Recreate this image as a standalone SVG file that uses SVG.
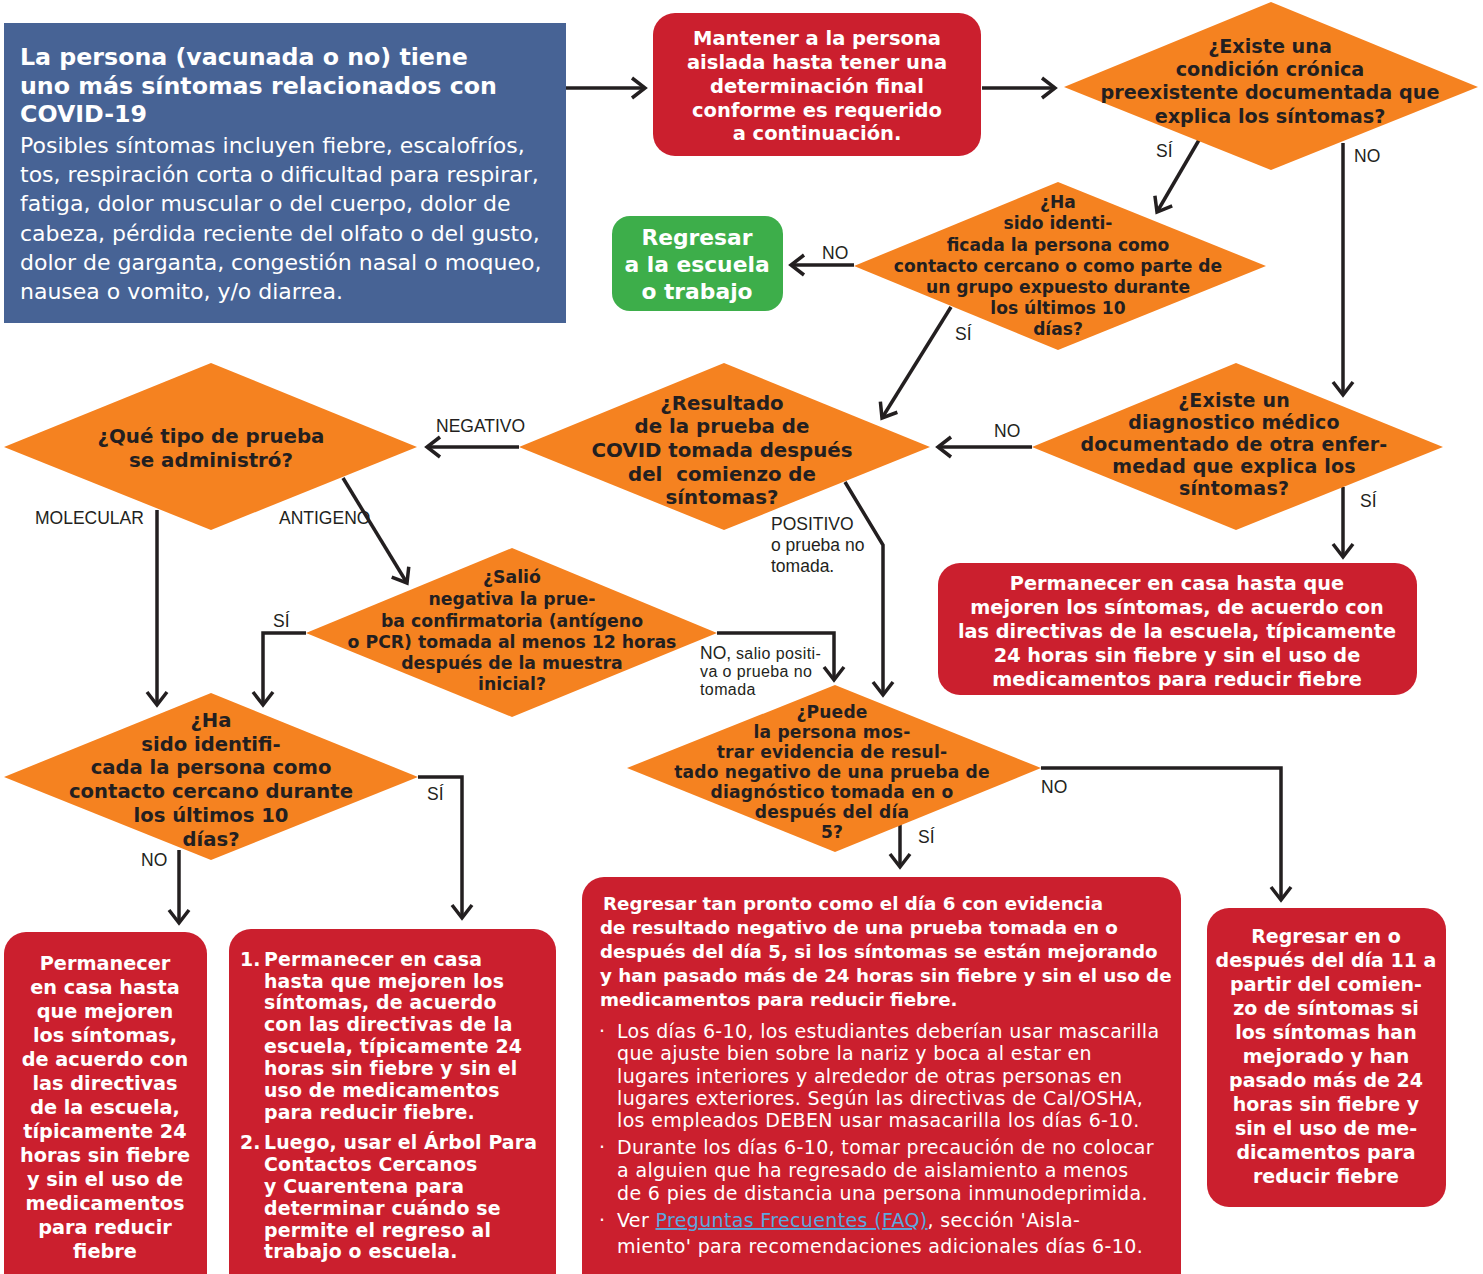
<svg xmlns="http://www.w3.org/2000/svg" width="1483" height="1274" viewBox="0 0 1483 1274">
<defs>
<style>
.f{font-family:"DejaVu Sans","Verdana",sans-serif}
.bx{font-family:"DejaVu Sans","Verdana",sans-serif;font-weight:700;fill:#fff}
.q{font-family:"DejaVu Sans","Verdana",sans-serif;font-weight:700;fill:#231F20;text-anchor:middle}
.lb{font-family:"Liberation Sans","Arial",sans-serif;font-weight:400;fill:#231F20;font-size:17.5px}
.sm{font-size:16px;letter-spacing:0.4px}
.red{fill:#CB1F2E}
.dia{fill:#F58220}
.cn{fill:none;stroke:#231F20;stroke-width:3.5;marker-end:url(#ah)}
.mid{text-anchor:middle}
</style>
<marker id="ah" viewBox="-20 -15 30 30" markerWidth="30" markerHeight="30" refX="0" refY="0" orient="auto" markerUnits="userSpaceOnUse">
<path d="M-13,-10 L0,0 L-13,10" fill="none" stroke="#231F20" stroke-width="3.5"/>
</marker>
</defs>
<rect width="1483" height="1274" fill="#fff"/>

<g id="connectors">
<path class="cn" d="M566,88 H645"/>
<path class="cn" d="M982,88 H1055"/>
<path class="cn" d="M1199,140 L1157,212"/>
<path class="cn" d="M1343,143 V395"/>
<path class="cn" d="M854,265 H791"/>
<path class="cn" d="M951,307 L882,418"/>
<path class="cn" d="M1032,447 H938"/>
<path class="cn" d="M519,447 H427"/>
<path class="cn" d="M1343,487 V557"/>
<path class="cn" d="M845,482 L883,545 V695"/>
<path class="cn" d="M157,510 V705"/>
<path class="cn" d="M343,478 L407,583"/>
<path class="cn" d="M306,633 H263 V705"/>
<path class="cn" d="M717,633 H834 V680"/>
<path class="cn" d="M900,822 V867"/>
<path class="cn" d="M1041,768 H1281 V900"/>
<path class="cn" d="M179,850 V923"/>
<path class="cn" d="M418,777 H462 V918"/>
<text class="lb" x="1156" y="157">SÍ</text>
<text class="lb" x="1354" y="162">NO</text>
<text class="lb" x="822" y="259">NO</text>
<text class="lb" x="955" y="340">SÍ</text>
<text class="lb" x="994" y="437">NO</text>
<text class="lb" x="436" y="432">NEGATIVO</text>
<text class="lb" x="1360" y="507">SÍ</text>
<text class="lb" x="771" y="530">POSITIVO</text>
<text class="lb" x="771" y="551" font-size="16.5">o prueba no</text>
<text class="lb" x="771" y="572" font-size="16.5">tomada.</text>
<text class="lb" x="35" y="524">MOLECULAR</text>
<text class="lb" x="279" y="524">ANTIGENO</text>
<text class="lb" x="273" y="627">SÍ</text>
<text class="lb" x="700" y="659" font-size="16.5">NO,<tspan class="sm"> salio positi-</tspan></text>
<text class="lb sm" x="700" y="677">va o prueba no</text>
<text class="lb sm" x="700" y="695">tomada</text>
<text class="lb" x="918" y="843">SÍ</text>
<text class="lb" x="1041" y="793">NO</text>
<text class="lb" x="141" y="866">NO</text>
<text class="lb" x="427" y="800">SÍ</text>
</g>

<g id="n-start">
<rect x="4" y="23" width="562" height="300" fill="#476395"/>
<text class="bx" font-size="23.7"><tspan x="20" y="65">La persona (vacunada o no) tiene</tspan><tspan x="20" y="94">uno más síntomas relacionados con</tspan><tspan x="20" y="122">COVID-19</tspan></text>
<text class="f" font-size="22" fill="#fff"><tspan x="20" y="153">Posibles síntomas incluyen fiebre, escalofríos,</tspan><tspan x="20" y="182">tos, respiración corta o dificultad para respirar,</tspan><tspan x="20" y="211">fatiga, dolor muscular o del cuerpo, dolor de</tspan><tspan x="20" y="241">cabeza, pérdida reciente del olfato o del gusto,</tspan><tspan x="20" y="270">dolor de garganta, congestión nasal o moqueo,</tspan><tspan x="20" y="299">nausea o vomito, y/o diarrea.</tspan></text>
</g>

<g id="n-aislar">
<rect class="red" x="653" y="13" width="328" height="143" rx="22"/>
<text class="bx mid" font-size="19.5"><tspan x="817" y="45">Mantener a la persona</tspan><tspan x="817" y="69">aislada hasta tener una</tspan><tspan x="817" y="93">determinación final</tspan><tspan x="817" y="117">conforme es requerido</tspan><tspan x="817" y="140">a continuación.</tspan></text>
</g>

<g id="n-cronica">
<polygon class="dia" points="1271,2 1478,87 1271,170 1064,87"/>
<text class="q" font-size="19.2"><tspan x="1270" y="53">¿Existe una</tspan><tspan x="1270" y="76">condición crónica</tspan><tspan x="1270" y="99">preexistente documentada que</tspan><tspan x="1270" y="123">explica los síntomas?</tspan></text>
</g>

<g id="n-regresar">
<rect x="612" y="216" width="171" height="95" rx="18" fill="#3DAE4A"/>
<text class="bx mid" font-size="21.8"><tspan x="697" y="245">Regresar</tspan><tspan x="697" y="272">a la escuela</tspan><tspan x="697" y="299">o trabajo</tspan></text>
</g>

<g id="n-contacto-grupo">
<polygon class="dia" points="1058,182 1266,266 1058,350 854,266"/>
<text class="q" font-size="17.1"><tspan x="1058" y="208">¿Ha</tspan><tspan x="1058" y="229">sido identi-</tspan><tspan x="1058" y="251">ficada la persona como</tspan><tspan x="1058" y="272">contacto cercano o como parte de</tspan><tspan x="1058" y="293">un grupo expuesto durante</tspan><tspan x="1058" y="314">los últimos 10</tspan><tspan x="1058" y="335">días?</tspan></text>
</g>

<g id="n-resultado">
<polygon class="dia" points="724,363 930,447 724,530 519,447"/>
<text class="q" font-size="19.8"><tspan x="722" y="410">¿Resultado</tspan><tspan x="722" y="433">de la prueba de</tspan><tspan x="722" y="457">COVID tomada después</tspan><tspan x="722" y="481">del&#160; comienzo de</tspan><tspan x="722" y="504">síntomas?</tspan></text>
</g>

<g id="n-diagnostico">
<polygon class="dia" points="1236,363 1443,447 1236,530 1032,447"/>
<text class="q" font-size="19" letter-spacing="0.2"><tspan x="1234" y="407">¿Existe un</tspan><tspan x="1234" y="429">diagnostico médico</tspan><tspan x="1234" y="451">documentado de otra enfer-</tspan><tspan x="1234" y="473">medad que explica los</tspan><tspan x="1234" y="495">síntomas?</tspan></text>
</g>

<g id="n-casa-sintomas">
<rect class="red" x="938" y="563" width="479" height="132" rx="22"/>
<text class="bx mid" font-size="19.3"><tspan x="1177" y="590">Permanecer en casa hasta que</tspan><tspan x="1177" y="614">mejoren los síntomas, de acuerdo con</tspan><tspan x="1177" y="638">las directivas de la escuela, típicamente</tspan><tspan x="1177" y="662">24 horas sin fiebre y sin el uso de</tspan><tspan x="1177" y="686">medicamentos para reducir fiebre</tspan></text>
</g>

<g id="n-tipo">
<polygon class="dia" points="211,363 417,447 211,530 4,447"/>
<text class="q" font-size="19.8"><tspan x="211" y="443">¿Qué tipo de prueba</tspan><tspan x="211" y="467">se administró?</tspan></text>
</g>

<g id="n-confirmatoria">
<polygon class="dia" points="512,548 717,633 512,717 306,633"/>
<text class="q" font-size="17.3"><tspan x="512" y="583">¿Salió</tspan><tspan x="512" y="605">negativa la prue-</tspan><tspan x="512" y="627">ba confirmatoria (antígeno</tspan><tspan x="512" y="648">o PCR) tomada al menos 12 horas</tspan><tspan x="512" y="669">después de la muestra</tspan><tspan x="512" y="690">inicial?</tspan></text>
</g>

<g id="n-puede">
<polygon class="dia" points="835,685 1041,768 835,852 627,768"/>
<text class="q" font-size="17.1" letter-spacing="0.2"><tspan x="832" y="718">¿Puede</tspan><tspan x="832" y="738">la persona mos-</tspan><tspan x="832" y="758">trar evidencia de resul-</tspan><tspan x="832" y="778">tado negativo de una prueba de</tspan><tspan x="832" y="798">diagnóstico tomada en o</tspan><tspan x="832" y="818">después del día</tspan><tspan x="832" y="838">5?</tspan></text>
</g>

<g id="n-contacto">
<polygon class="dia" points="211,693 418,777 211,860 4,777"/>
<text class="q" font-size="19.6"><tspan x="211" y="727">¿Ha</tspan><tspan x="211" y="751">sido identifi-</tspan><tspan x="211" y="774">cada la persona como</tspan><tspan x="211" y="798">contacto cercano durante</tspan><tspan x="211" y="822">los últimos 10</tspan><tspan x="211" y="846">días?</tspan></text>
</g>

<g id="n-casa-a">
<rect class="red" x="4" y="932" width="203" height="370" rx="22"/>
<text class="bx mid" font-size="19.3"><tspan x="105" y="970">Permanecer</tspan><tspan x="105" y="994">en casa hasta</tspan><tspan x="105" y="1018">que mejoren</tspan><tspan x="105" y="1042">los síntomas,</tspan><tspan x="105" y="1066">de acuerdo con</tspan><tspan x="105" y="1090">las directivas</tspan><tspan x="105" y="1114">de la escuela,</tspan><tspan x="105" y="1138">típicamente 24</tspan><tspan x="105" y="1162">horas sin fiebre</tspan><tspan x="105" y="1186">y sin el uso de</tspan><tspan x="105" y="1210">medicamentos</tspan><tspan x="105" y="1234">para reducir</tspan><tspan x="105" y="1258">fiebre</tspan></text>
</g>

<g id="n-casa-b">
<rect class="red" x="229" y="929" width="327" height="370" rx="22"/>
<text class="bx" font-size="18.9" letter-spacing="0.15"><tspan x="240" y="966">1.</tspan><tspan x="264" y="966">Permanecer en casa</tspan><tspan x="264" y="988">hasta que mejoren los</tspan><tspan x="264" y="1009">síntomas, de acuerdo</tspan><tspan x="264" y="1031">con las directivas de la</tspan><tspan x="264" y="1053">escuela, típicamente 24</tspan><tspan x="264" y="1075">horas sin fiebre y sin el</tspan><tspan x="264" y="1097">uso de medicamentos</tspan><tspan x="264" y="1119">para reducir fiebre.</tspan><tspan x="240" y="1149">2.</tspan><tspan x="264" y="1149">Luego, usar el Árbol Para</tspan><tspan x="264" y="1171">Contactos Cercanos</tspan><tspan x="264" y="1193">y Cuarentena para</tspan><tspan x="264" y="1215">determinar cuándo se</tspan><tspan x="264" y="1237">permite el regreso al</tspan><tspan x="264" y="1258">trabajo o escuela.</tspan></text>
</g>

<g id="n-dia6">
<rect class="red" x="582" y="877" width="599" height="420" rx="22"/>
<text class="bx" font-size="18.3"><tspan x="603" y="910">Regresar tan pronto como el día 6 con evidencia</tspan><tspan x="600" y="934">de resultado negativo de una prueba tomada en o</tspan><tspan x="600" y="958">después del día 5, si los síntomas se están mejorando</tspan><tspan x="600" y="982">y han pasado más de 24 horas sin fiebre y sin el uso de</tspan><tspan x="600" y="1006">medicamentos para reducir fiebre.</tspan></text>
<text class="f" font-size="19" letter-spacing="0.35" fill="#fff"><tspan x="599" y="1038">·</tspan><tspan x="617" y="1038">Los días 6-10, los estudiantes deberían usar mascarilla</tspan><tspan x="617" y="1060">que ajuste bien sobre la nariz y boca al estar en</tspan><tspan x="617" y="1083">lugares interiores y alrededor de otras personas en</tspan><tspan x="617" y="1105">lugares exteriores. Según las directivas de Cal/OSHA,</tspan><tspan x="617" y="1127">los empleados DEBEN usar masacarilla los días 6-10.</tspan><tspan x="599" y="1154">·</tspan><tspan x="617" y="1154">Durante los días 6-10, tomar precaución de no colocar</tspan><tspan x="617" y="1177">a alguien que ha regresado de aislamiento a menos</tspan><tspan x="617" y="1200">de 6 pies de distancia una persona inmunodeprimida.</tspan><tspan x="599" y="1227">·</tspan><tspan x="617" y="1227">Ver </tspan><tspan fill="#5BA8DE" text-decoration="underline">Preguntas Frecuentes (FAQ)</tspan><tspan>, sección 'Aisla-</tspan><tspan x="617" y="1253">miento' para recomendaciones adicionales días 6-10.</tspan></text>
</g>

<g id="n-dia11">
<rect class="red" x="1207" y="908" width="239" height="299" rx="22"/>
<text class="bx mid" font-size="19"><tspan x="1326" y="943">Regresar en o</tspan><tspan x="1326" y="967">después del día 11 a</tspan><tspan x="1326" y="991">partir del comien-</tspan><tspan x="1326" y="1015">zo de síntomas si</tspan><tspan x="1326" y="1039">los síntomas han</tspan><tspan x="1326" y="1063">mejorado y han</tspan><tspan x="1326" y="1087">pasado más de 24</tspan><tspan x="1326" y="1111">horas sin fiebre y</tspan><tspan x="1326" y="1135">sin el uso de me-</tspan><tspan x="1326" y="1159">dicamentos para</tspan><tspan x="1326" y="1183">reducir fiebre</tspan></text>
</g>
</svg>
